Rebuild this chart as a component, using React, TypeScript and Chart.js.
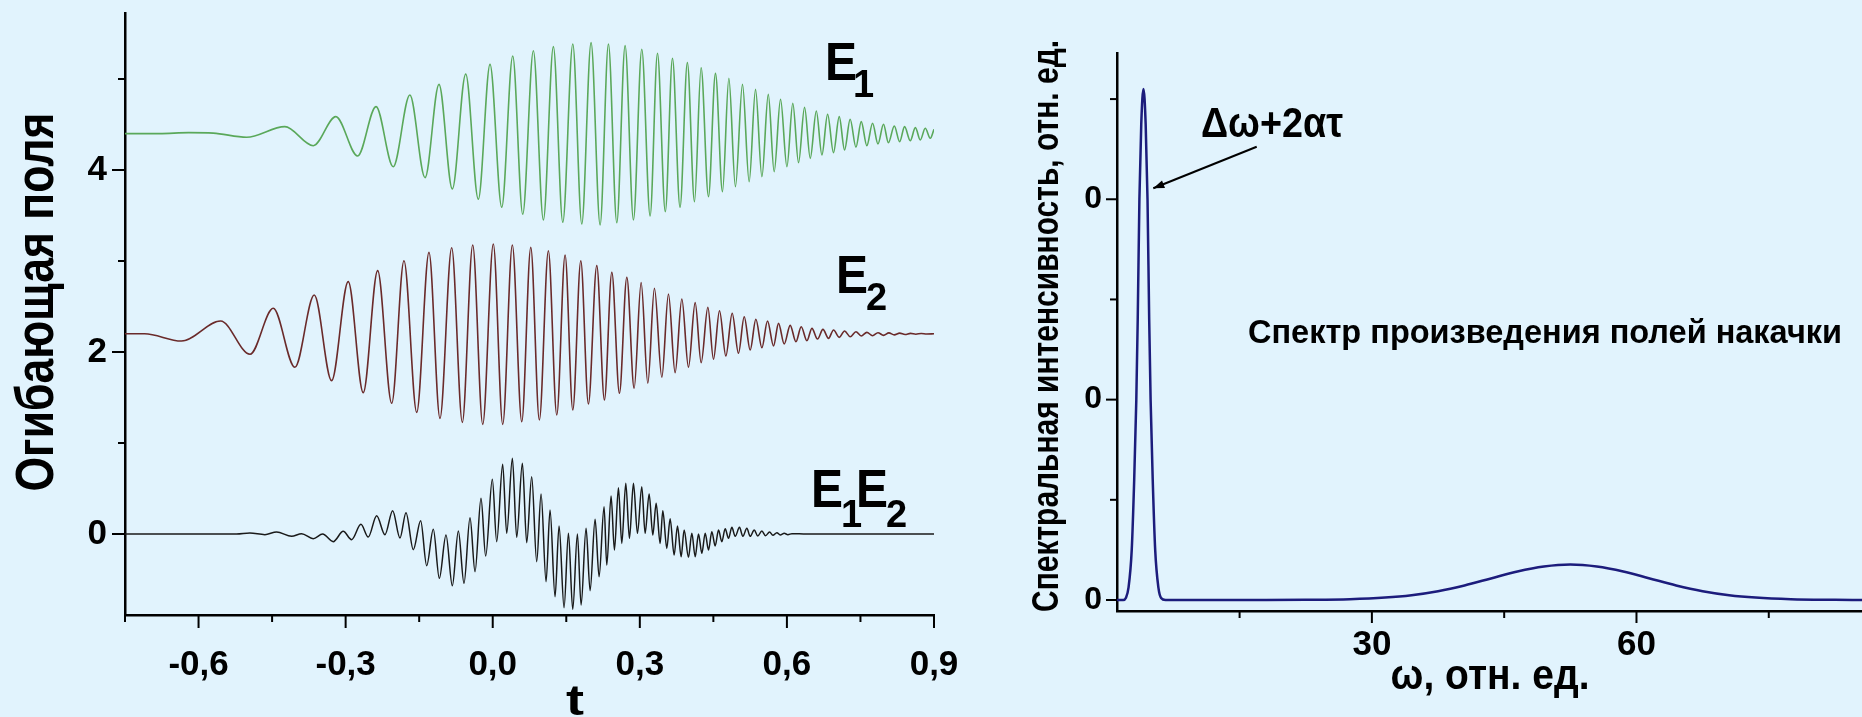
import React, { useEffect, useRef } from "react";
import { Chart, registerables } from "chart.js";

Chart.register(...registerables);

const BG = "#e1f3fd";
const FONT = "'Liberation Sans', Arial, Helvetica, sans-serif";

// ---------- Left panel: field envelopes ----------
const T_TICKS = [-0.75, -0.6, -0.45, -0.3, -0.15, 0, 0.15, 0.3, 0.45, 0.6, 0.75, 0.9];
const T_TICK_LABELS = ["", "-0,6", "", "-0,3", "", "0,0", "", "0,3", "", "0,6", "", "0,9"];
const V_TICKS = [0, 1, 2, 3, 4, 5];
const V_TICK_LABELS = ["0", "", "2", "", "4", ""];

const E1_T = [
  -0.75, -0.68, -0.62, -0.57, -0.502, -0.424, -0.366, -0.32, -0.2755, -0.238, -0.203, -0.169, -0.138,
  -0.1096, -0.0824, -0.0551, -0.0294, -0.0055, 0.0184, 0.0408, 0.0612, 0.0829, 0.1033, 0.1237, 0.1429,
  0.1633, 0.1816, 0.2006, 0.219, 0.236, 0.253, 0.27, 0.287, 0.304, 0.321, 0.336, 0.352, 0.3666, 0.382,
  0.397, 0.4115, 0.425, 0.44, 0.4543, 0.4686, 0.4816, 0.495, 0.5094, 0.523, 0.536, 0.549, 0.562, 0.574,
  0.587, 0.6, 0.612, 0.6237, 0.636, 0.6476, 0.66, 0.6714, 0.683, 0.695, 0.7067, 0.7176, 0.729, 0.7408,
  0.7516, 0.763, 0.7747, 0.7857, 0.797, 0.807, 0.819, 0.83, 0.84, 0.8516, 0.862, 0.872, 0.8822, 0.8924, 0.9,
];
const E1_V = [
  4.4, 4.4, 4.41, 4.405, 4.36, 4.476, 4.267, 4.586, 4.154, 4.696, 4.036, 4.824, 3.916,
  4.941, 3.791, 5.055, 3.678, 5.161, 3.59, 5.253, 3.513, 5.311, 3.451, 5.355, 3.425,
  5.385, 3.407, 5.4, 3.396, 5.385, 3.42, 5.366, 3.451, 5.326, 3.495, 5.282, 3.542, 5.227, 3.59,
  5.18, 3.652, 5.124, 3.707, 5.062, 3.762, 5.007, 3.817, 4.941, 3.871, 4.886, 3.926, 4.831, 3.981,
  4.777, 4.036, 4.733, 4.08, 4.689, 4.128, 4.648, 4.165, 4.612, 4.19, 4.586, 4.22, 4.557, 4.25,
  4.531, 4.267, 4.513, 4.286, 4.502, 4.3, 4.484, 4.311, 4.476, 4.322, 4.465, 4.33, 4.458, 4.348, 4.447,
];

const E2_T = [
  -0.75, -0.71, -0.635, -0.555, -0.495, -0.4477, -0.4035, -0.364, -0.3286, -0.2947, -0.2641, -0.2347,
  -0.206, -0.181, -0.155, -0.13, -0.1076, -0.0837, -0.062, -0.0408, -0.0204, 0.0012, 0.0204, 0.04,
  0.0592, 0.0776, 0.0951, 0.1135, 0.1306, 0.1476, 0.1633, 0.1796, 0.1951, 0.2122, 0.2278, 0.2429,
  0.2584, 0.2735, 0.2884, 0.3027, 0.3163, 0.3298, 0.3449, 0.3584, 0.372, 0.3857, 0.3992, 0.4129,
  0.4251, 0.4388, 0.4502, 0.4625, 0.4755, 0.4884, 0.5012, 0.5129, 0.5251, 0.5367, 0.549, 0.5604,
  0.5727, 0.5829, 0.5945, 0.6067, 0.6184, 0.6292, 0.6408, 0.651, 0.6624, 0.6735, 0.6849, 0.6951,
  0.7067, 0.7176, 0.7292, 0.7408, 0.7516, 0.763, 0.7747, 0.7857, 0.797, 0.808, 0.819, 0.83, 0.841,
  0.852, 0.863, 0.874, 0.885, 0.9,
];
const E2_V = [
  2.2, 2.2, 2.12, 2.341, 1.975, 2.48, 1.832, 2.626, 1.685, 2.773, 1.553, 2.894,
  1.436, 3.003, 1.337, 3.095, 1.271, 3.146, 1.227, 3.176, 1.205, 3.187, 1.205, 3.176,
  1.234, 3.15, 1.253, 3.113, 1.308, 3.066, 1.363, 3.003, 1.429, 2.949, 1.473, 2.876,
  1.546, 2.821, 1.601, 2.762, 1.656, 2.7, 1.722, 2.637, 1.773, 2.582, 1.832, 2.542,
  1.882, 2.491, 1.92, 2.454, 1.956, 2.425, 1.986, 2.388, 2.022, 2.359, 2.047, 2.341,
  2.066, 2.315, 2.088, 2.293, 2.113, 2.278, 2.124, 2.26, 2.143, 2.249, 2.15, 2.242,
  2.161, 2.231, 2.168, 2.223, 2.176, 2.216, 2.179, 2.212, 2.183, 2.21, 2.188, 2.207, 2.192,
  2.205, 2.195, 2.204, 2.197, 2.2,
];

const P_T = [
  -0.75, -0.5225, -0.4953, -0.4647, -0.4408, -0.4102, -0.3898, -0.3661, -0.3469, -0.3253, -0.3049,
  -0.2878, -0.2688, -0.2539, -0.2367, -0.2198, -0.2041, -0.1892, -0.1769, -0.162, -0.147, -0.1347,
  -0.1212, -0.1089, -0.0953, -0.0824, -0.0701, -0.0586, -0.0463, -0.0361, -0.0239, -0.0144, -0.0008,
  0.0081, 0.0203, 0.0285, 0.0401, 0.0489, 0.0605, 0.0693, 0.0795, 0.0897, 0.0986, 0.1088, 0.1169,
  0.1271, 0.1353, 0.1455, 0.1544, 0.1632, 0.1727, 0.1802, 0.1904, 0.1986, 0.2088, 0.2169, 0.2271,
  0.2326, 0.2414, 0.2482, 0.2564, 0.2632, 0.2714, 0.2788, 0.287, 0.2952, 0.304, 0.3108, 0.319,
  0.3265, 0.3333, 0.3414, 0.3469, 0.355, 0.3618, 0.37, 0.3768, 0.3843, 0.3904, 0.3992, 0.4061,
  0.4129, 0.4197, 0.4265, 0.4333, 0.4401, 0.4469, 0.4537, 0.4605, 0.4673, 0.4741, 0.4809, 0.4877,
  0.4945, 0.5033, 0.5101, 0.5183, 0.5251, 0.5333, 0.5406, 0.5489, 0.5564, 0.5646, 0.5714, 0.5795,
  0.5864, 0.5946, 0.602, 0.6102, 0.64, 0.9,
];
const P_V = [
  0, 0, 0.011, -0.007, 0.022, -0.026, 0.004, -0.051, 0.0, -0.084, 0.029,
  -0.062, 0.106, -0.033, 0.201, -0.007, 0.256, -0.044, 0.234, -0.172, 0.146, -0.348,
  0.051, -0.487, -0.011, -0.568, 0.033, -0.542, 0.179, -0.414, 0.392, -0.242, 0.601,
  -0.084, 0.766, 0.007, 0.832, -0.037, 0.777, -0.095, 0.63, -0.304, 0.44, -0.524, 0.264,
  -0.689, 0.088, -0.81, 0.007, -0.828, 0.0, -0.78, 0.062, -0.623, 0.161, -0.469, 0.3,
  -0.341, 0.418, -0.176, 0.509, -0.103, 0.557, -0.048, 0.557, 0.007, 0.52, 0.007, 0.44,
  -0.011, 0.337, -0.103, 0.256, -0.158, 0.168, -0.231, 0.088, -0.249, 0.044, -0.256, 0.007,
  -0.249, 0.0, -0.212, 0.007, -0.176, 0.026, -0.132, 0.044, -0.084, 0.059, -0.048, 0.073,
  -0.026, 0.073, -0.026, 0.062, -0.026, 0.044, -0.022, 0.033, -0.018, 0.022, -0.015, 0.015,
  -0.011, 0.007, -0.007, 0.004, 0, 0,
];

// ---------- Right panel: spectrum ----------
const W_TICKS = [15, 30, 45, 60, 75];
const W_TICK_LABELS = ["", "30", "", "60", ""];
const S_TICKS = [0, 1, 2, 3, 4, 5];
const S_TICK_LABELS = ["0", "", "0", "", "0", ""];

const OMEGA = [
  1.1, 1.8, 2.1, 2.4, 2.77, 3.05, 3.29, 3.45, 3.64, 3.85, 4.1, 4.35, 4.56, 4.75, 4.91, 5.15, 5.43, 5.8,
  6.1, 6.6, 10, 18, 22.5, 27.5, 31.5, 34.5, 37.5, 40.5, 43.5, 46.5, 49.5, 52.5, 55.5, 58.5, 61.5,
  64.5, 67.5, 70.5, 73.5, 77.5, 82.5, 85.6,
];
const SPECTRUM = [
  0, 0, 0.02, 0.12, 0.5, 1.2, 2.0, 2.8, 4.0, 4.75, 5.1, 4.75, 4.0, 2.8, 2.0, 1.2, 0.5, 0.12,
  0.02, 0, 0, 0, 0.002, 0.008, 0.024, 0.048, 0.088, 0.145, 0.215, 0.285, 0.335, 0.355, 0.335, 0.285, 0.215,
  0.145, 0.088, 0.048, 0.024, 0.008, 0.002, 0,
];

const pts = (xs: number[], ys: number[]) => xs.map((x, i) => ({ x, y: ys[i] }));

function fitText(
  ctx: CanvasRenderingContext2D,
  text: string,
  x: number,
  y: number,
  font: string,
  width: number | null,
  align: CanvasTextAlign,
  rotate = false
) {
  ctx.save();
  ctx.font = font;
  ctx.fillStyle = "#000";
  ctx.textBaseline = "alphabetic";
  ctx.textAlign = align;
  const w = ctx.measureText(text).width;
  ctx.translate(x, y);
  if (rotate) ctx.rotate(-Math.PI / 2);
  if (width) ctx.scale(width / w, 1);
  ctx.fillText(text, 0, 0);
  ctx.restore();
}

function makeTickPlugin(
  xTicks: number[],
  xLabels: string[],
  yTicks: number[],
  yLabels: string[],
  xLen: [number, number],
  yLen: [number, number]
) {
  return {
    id: "manualTicks",
    afterDraw(chart: any) {
      const ctx = chart.ctx as CanvasRenderingContext2D;
      const a = chart.chartArea;
      const xs = chart.scales.x;
      const ys = chart.scales.y;
      ctx.save();
      ctx.strokeStyle = "#000";
      ctx.lineWidth = 2;
      xTicks.forEach((v, i) => {
        const px = xs.getPixelForValue(v);
        const len = xLabels[i] ? xLen[0] : xLen[1];
        ctx.beginPath();
        ctx.moveTo(px, a.bottom);
        ctx.lineTo(px, a.bottom + len);
        ctx.stroke();
      });
      yTicks.forEach((v, i) => {
        const py = ys.getPixelForValue(v);
        const len = yLabels[i] ? yLen[0] : yLen[1];
        ctx.beginPath();
        ctx.moveTo(a.left - len, py);
        ctx.lineTo(a.left, py);
        ctx.stroke();
      });
      ctx.restore();
    },
  };
}

const tickFont = (size: number) => ({ family: FONT, size, weight: "bold" as const });

function LeftChart() {
  const ref = useRef<HTMLCanvasElement>(null);
  useEffect(() => {
    if (!ref.current) return;
    const textPlugin = {
      id: "leftText",
      afterDraw(chart: any) {
        const ctx = chart.ctx as CanvasRenderingContext2D;
        fitText(ctx, "Огибающая поля", 53, 302, `bold 53px ${FONT}`, 379, "center", true);
        fitText(ctx, "t", 575, 715, `bold 42px ${FONT}`, 18, "center");
        fitText(ctx, "E", 825, 80, `bold 53px ${FONT}`, 32, "left");
        fitText(ctx, "1", 853, 97, `bold 38px ${FONT}`, null, "left");
        fitText(ctx, "E", 836, 293, `bold 53px ${FONT}`, 32, "left");
        fitText(ctx, "2", 866, 310, `bold 38px ${FONT}`, null, "left");
        fitText(ctx, "E", 811, 507, `bold 53px ${FONT}`, 32, "left");
        fitText(ctx, "1", 841, 527, `bold 38px ${FONT}`, null, "left");
        fitText(ctx, "E", 856, 507, `bold 53px ${FONT}`, 32, "left");
        fitText(ctx, "2", 886, 527, `bold 38px ${FONT}`, null, "left");
      },
    };
    const chart = new Chart(ref.current, {
      type: "line",
      data: {
        datasets: [
          { data: pts(E1_T, E1_V), borderColor: "#5aa85a", borderWidth: 1.6, pointRadius: 0, cubicInterpolationMode: "monotone", fill: false },
          { data: pts(E2_T, E2_V), borderColor: "#6a2a2a", borderWidth: 1.6, pointRadius: 0, cubicInterpolationMode: "monotone", fill: false },
          { data: pts(P_T, P_V), borderColor: "#1a1a1a", borderWidth: 1.5, pointRadius: 0, cubicInterpolationMode: "monotone", fill: false },
        ],
      },
      options: {
        animation: false,
        responsive: false,
        devicePixelRatio: 1,
        events: [],
        layout: { padding: { left: 0, right: 26, top: 13, bottom: 0 } },
        plugins: { legend: { display: false }, tooltip: { enabled: false } },
        scales: {
          x: {
            type: "linear",
            min: -0.75,
            max: 0.9,
            grid: { display: false, drawTicks: true, tickLength: 13 },
            border: { display: true, color: "#000", width: 2.5 },
            afterBuildTicks: (s: any) => { s.ticks = T_TICKS.map((v) => ({ value: v })); },
            afterFit: (s: any) => { s.height = 102; s.paddingLeft = 0; s.paddingRight = 0; },
            ticks: {
              autoSkip: false, maxRotation: 0, minRotation: 0, padding: 16, color: "#000",
              font: tickFont(35),
              callback: (_v: any, i: number) => T_TICK_LABELS[i],
            },
          },
          y: {
            type: "linear",
            min: -0.89,
            max: 5.725,
            grid: { display: false, drawTicks: true, tickLength: 13 },
            border: { display: true, color: "#000", width: 2.5 },
            afterBuildTicks: (s: any) => { s.ticks = V_TICKS.map((v) => ({ value: v })); },
            afterFit: (s: any) => { s.width = 125; s.paddingTop = 0; s.paddingBottom = 0; },
            ticks: {
              autoSkip: false, padding: 5, color: "#000",
              font: tickFont(35),
              callback: (_v: any, i: number) => V_TICK_LABELS[i],
            },
          },
        },
      },
      plugins: [makeTickPlugin(T_TICKS, T_TICK_LABELS, V_TICKS, V_TICK_LABELS, [13, 7], [13, 7]), textPlugin],
    } as any);
    return () => chart.destroy();
  }, []);
  return (
    <canvas ref={ref} width={960} height={717} style={{ position: "absolute", left: 0, top: 0, width: 960, height: 717 }} />
  );
}

function RightChart() {
  const ref = useRef<HTMLCanvasElement>(null);
  useEffect(() => {
    if (!ref.current) return;
    const textPlugin = {
      id: "rightText",
      afterDraw(chart: any) {
        const ctx = chart.ctx as CanvasRenderingContext2D;
        fitText(ctx, "Спектральная интенсивность, отн. ед.", 98, 326, `bold 36px ${FONT}`, 572, "center", true);
        fitText(ctx, "ω, отн. ед.", 530, 689, `bold 42px ${FONT}`, 199, "center");
        fitText(ctx, "Спектр произведения полей накачки", 288, 343, `bold 33px ${FONT}`, 594, "left");
        fitText(ctx, "Δω+2ατ", 241, 137, `bold 42px ${FONT}`, 142, "left");
        // arrow
        const x1 = 296.7, y1 = 146.7, x2 = 193.3, y2 = 188.3;
        ctx.save();
        ctx.strokeStyle = "#000";
        ctx.fillStyle = "#000";
        ctx.lineWidth = 2;
        ctx.beginPath();
        ctx.moveTo(x1, y1);
        ctx.lineTo(x2, y2);
        ctx.stroke();
        const ang = Math.atan2(y2 - y1, x2 - x1);
        const hl = 11, hw = 4;
        ctx.beginPath();
        ctx.moveTo(x2, y2);
        ctx.lineTo(x2 - hl * Math.cos(ang) + hw * Math.sin(ang), y2 - hl * Math.sin(ang) - hw * Math.cos(ang));
        ctx.lineTo(x2 - hl * Math.cos(ang) - hw * Math.sin(ang), y2 - hl * Math.sin(ang) + hw * Math.cos(ang));
        ctx.closePath();
        ctx.fill();
        ctx.restore();
      },
    };
    const chart = new Chart(ref.current, {
      type: "line",
      data: {
        datasets: [
          { data: pts(OMEGA, SPECTRUM), borderColor: "#1c1c7c", borderWidth: 2.5, pointRadius: 0, cubicInterpolationMode: "monotone", fill: false },
        ],
      },
      options: {
        animation: false,
        responsive: false,
        devicePixelRatio: 1,
        events: [],
        layout: { padding: { left: 0, right: 0, top: 53, bottom: 0 } },
        plugins: { legend: { display: false }, tooltip: { enabled: false } },
        scales: {
          x: {
            type: "linear",
            min: 1.1,
            max: 85.57,
            grid: { display: false, drawTicks: true, tickLength: 12 },
            border: { display: true, color: "#000", width: 2.5 },
            afterBuildTicks: (s: any) => { s.ticks = W_TICKS.map((v) => ({ value: v })); },
            afterFit: (s: any) => { s.height = 106; s.paddingLeft = 0; s.paddingRight = 0; },
            ticks: {
              autoSkip: false, maxRotation: 0, minRotation: 0, padding: 1, color: "#000",
              font: tickFont(35),
              callback: (_v: any, i: number) => W_TICK_LABELS[i],
            },
          },
          y: {
            type: "linear",
            min: -0.11,
            max: 5.46,
            grid: { display: false, drawTicks: true, tickLength: 11 },
            border: { display: true, color: "#000", width: 2.5 },
            afterBuildTicks: (s: any) => { s.ticks = S_TICKS.map((v) => ({ value: v })); },
            afterFit: (s: any) => { s.width = 157; s.paddingTop = 0; s.paddingBottom = 0; },
            ticks: {
              autoSkip: false, padding: 4, color: "#000",
              font: tickFont(32),
              callback: (_v: any, i: number) => S_TICK_LABELS[i],
            },
          },
        },
      },
      plugins: [makeTickPlugin(W_TICKS, W_TICK_LABELS, S_TICKS, S_TICK_LABELS, [12, 7], [11, 7]), textPlugin],
    } as any);
    return () => chart.destroy();
  }, []);
  return (
    <canvas ref={ref} width={902} height={717} style={{ position: "absolute", left: 960, top: 0, width: 902, height: 717 }} />
  );
}

export default function App() {
  return (
    <div style={{ position: "fixed", left: 0, top: 0, width: 1862, height: 717, background: BG, overflow: "hidden" }}>
      <LeftChart />
      <RightChart />
    </div>
  );
}
